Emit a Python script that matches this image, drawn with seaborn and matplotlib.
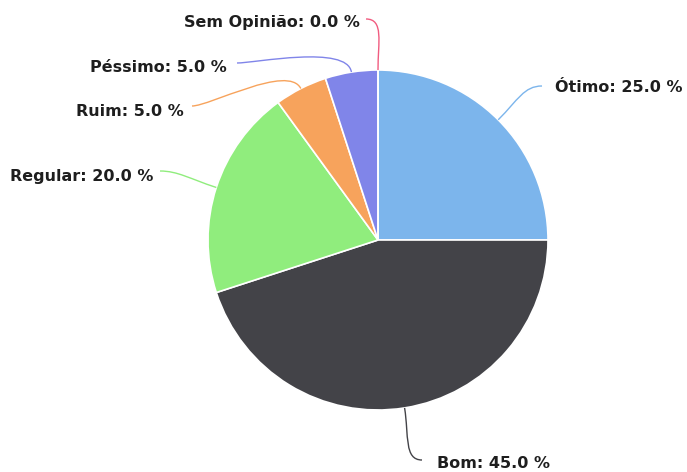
import numpy as np
import seaborn as sns
import matplotlib.pyplot as plt
from matplotlib.path import Path
from matplotlib.patches import PathPatch

# data
categories = ['Ótimo', 'Bom', 'Regular', 'Ruim', 'Péssimo', 'Sem Opinião']
values = [25.0, 45.0, 20.0, 5.0, 5.0, 0.0]
colors = ['#7cb5ec', '#434348', '#90ed7d', '#f7a35c', '#8085e9', '#f15c80']

# layout (pixel coords, origin top-left)
W, H = 687, 472
cx, cy, R = 378, 240, 170
label_end = [(542, 86), (422, 460), (160, 171), (192, 106), (237, 63), (366, 19)]
label_pos = [(555, 88), (437, 463), (153, 176), (184, 111), (227, 68), (360, 22)]
label_ha = ['left', 'left', 'right', 'right', 'right', 'right']

sns.set_theme(style='white')
plt.rcParams['font.family'] = ['DejaVu Sans']

fig = plt.figure(figsize=(W / 100, H / 100), dpi=100)
ax = fig.add_axes([0, 0, 1, 1])

def fy(y):
    return H - y

ax.pie(values, colors=colors, startangle=90, counterclock=False,
       center=(cx, fy(cy)), radius=R, normalize=True,
       wedgeprops=dict(edgecolor='white', linewidth=1.2))
ax.set_xlim(0, W)
ax.set_ylim(0, H)
ax.set_aspect('equal')
ax.axis('off')

total = sum(values)
start = 0.0
for i, (name, v) in enumerate(zip(categories, values)):
    mid = np.deg2rad((start + v / 2) / total * 360)
    start += v
    ux, uy = np.sin(mid), -np.cos(mid)
    p0 = (cx + R * ux, cy + R * uy)
    ex, ey = label_end[i]
    c1 = (p0[0] + ux * 28, p0[1] + uy * 28)
    side = 1 if ex > cx else -1
    c2 = (ex - side * 18, ey)
    verts = [(x, fy(y)) for x, y in [p0, c1, c2, (ex, ey)]]
    path = Path(verts, [Path.MOVETO, Path.CURVE4, Path.CURVE4, Path.CURVE4])
    ax.add_patch(PathPatch(path, facecolor='none', edgecolor=colors[i], lw=1))
    tx, ty = label_pos[i]
    ax.text(tx, fy(ty), f'{name}: {v:.1f} %', ha=label_ha[i], va='center',
            fontsize=11.5, fontweight='bold', color='#1e1e1e')

fig.savefig('out.png', dpi=100)
